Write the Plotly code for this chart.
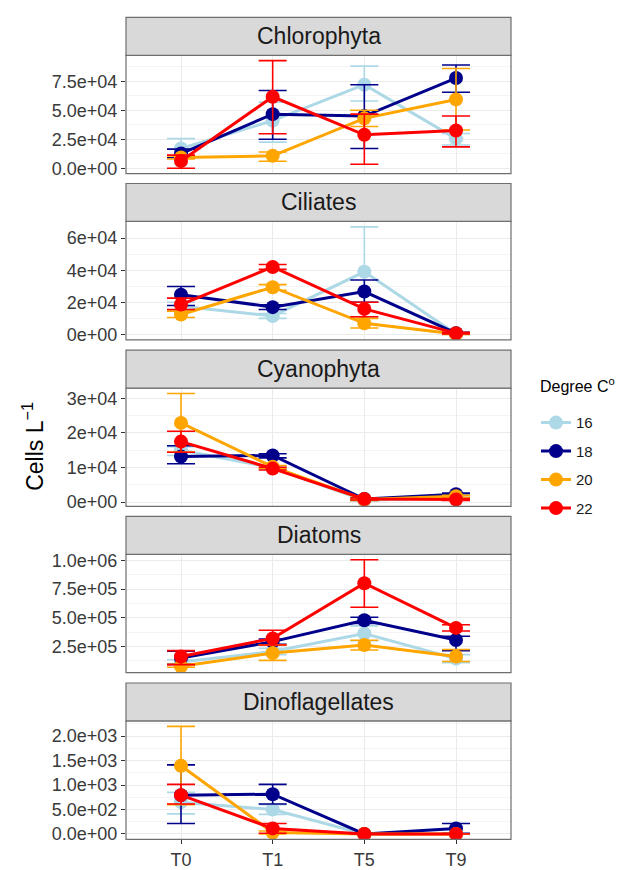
import plotly.graph_objects as go

W, H = 625, 870

times = ["T0", "T1", "T5", "T9"]
temps = ["16", "18", "20", "22"]
colors = {"16": "#ADD8E6", "18": "#00008B", "20": "#FFA500", "22": "#FF0000"}
groups = ["Chlorophyta", "Ciliates", "Cyanophyta", "Diatoms", "Dinoflagellates"]

# ---- data: mean, lower, upper for each group / temperature ----
chl_mean = {"16": [17000, 41000, 72000, 25500], "18": [12700, 46600, 45000, 77700],
            "20": [9300, 10700, 43000, 59300], "22": [6200, 61600, 28800, 32500]}
chl_lo = {"16": [9000, 22500, 58000, 20000], "18": [9000, 25000, 17000, 65500],
          "20": [8000, 6000, 36000, 33000], "22": [0, 29700, 3400, 18400]}
chl_hi = {"16": [25500, 57000, 88000, 30000], "18": [16500, 67000, 72000, 89000],
          "20": [10500, 14000, 50000, 86000], "22": [11300, 92700, 46600, 45000]}

cil_mean = {"16": [17500, 11500, 39000, 300], "18": [24700, 17000, 26700, 800],
            "20": [12400, 29400, 6900, 200], "22": [18600, 42000, 15900, 800]}
cil_lo = {"16": [15000, 10000, 11000, 0], "18": [18000, 15500, 20000, 300],
          "20": [10500, 27500, 4000, 0], "22": [15500, 40500, 11000, 300]}
cil_hi = {"16": [20000, 13000, 67000, 600], "18": [29800, 18500, 33900, 1300],
          "20": [14500, 31000, 10000, 400], "22": [22600, 43500, 20000, 1300]}

cya_mean = {"16": [15000, 10000, 500, 1500], "18": [13200, 13500, 900, 2300],
            "20": [22900, 10200, 750, 1700], "22": [17500, 9700, 900, 750]}
cya_lo = {"16": [13500, 9500, 300, 1200], "18": [11100, 12800, 600, 2000],
          "20": [14500, 9800, 500, 1400], "22": [14400, 9300, 600, 500]}
cya_hi = {"16": [16000, 10500, 700, 1800], "18": [16300, 14000, 1200, 2600],
          "20": [31400, 10600, 1000, 2000], "22": [20500, 10100, 1200, 1000]}

dia_mean = {"16": [115000, 207000, 364000, 145000], "18": [150000, 293000, 478000, 307000],
            "20": [79000, 193000, 264000, 164000], "22": [164000, 321000, 800000, 412000]}
dia_lo = {"16": [95000, 180000, 300000, 110000], "18": [95000, 270000, 450000, 215000],
          "20": [70000, 130000, 220000, 120000], "22": [93000, 264000, 592000, 385000]}
dia_hi = {"16": [135000, 235000, 430000, 180000], "18": [210000, 315000, 505000, 340000],
          "20": [95000, 265000, 305000, 225000], "22": [215000, 392000, 1005000, 440000]}

din_mean = {"16": [650, 500, 0, 0], "18": [793, 813, 0, 113],
            "20": [1393, 30, 0, 0], "22": [793, 113, 0, 0]}
din_lo = {"16": [410, 400, 0, 0], "18": [213, 613, 0, 13],
          "20": [600, 0, 0, 0], "22": [613, 13, 0, 0]}
din_hi = {"16": [850, 600, 0, 0], "18": [1413, 1013, 0, 213],
          "20": [2200, 60, 0, 0], "22": [1013, 213, 0, 0]}

tick_vals = [[0, 25000, 50000, 75000], [0, 20000, 40000, 60000], [0, 10000, 20000, 30000],
             [250000, 500000, 750000, 1000000], [0, 500, 1000, 1500, 2000]]
tick_text = [["0.0e+00", "2.5e+04", "5.0e+04", "7.5e+04"],
             ["0e+00", "2e+04", "4e+04", "6e+04"],
             ["0e+00", "1e+04", "2e+04", "3e+04"],
             ["2.5e+05", "5.0e+05", "7.5e+05", "1.0e+06"],
             ["0.0e+00", "5.0e+02", "1.0e+03", "1.5e+03", "2.0e+03"]]

data = [(chl_mean, chl_lo, chl_hi), (cil_mean, cil_lo, cil_hi), (cya_mean, cya_lo, cya_hi),
        (dia_mean, dia_lo, dia_hi), (din_mean, din_lo, din_hi)]

# ---- layout geometry (pixels in the window) ----
X0, X1 = 126, 511
strip_tops = [13.5, 182, 351, 519.5, 688.5]
STRIP_H = 38.5
PLOT_H = 120


def px(p):
    return p / W


def py(p):
    return 1 - p / H


fig = go.Figure()
shapes = []
annotations = []
font_family = "Liberation Sans, Arial, sans-serif"

for i, (g, (mean, lo, hi)) in enumerate(zip(groups, data)):
    n = i + 1
    xa = "x" if n == 1 else f"x{n}"
    ya = "y" if n == 1 else f"y{n}"
    top = strip_tops[i] + STRIP_H
    bottom = top + PLOT_H
    for t in temps:
        m = mean[t]
        fig.add_trace(go.Scatter(
            x=times, y=m, mode="lines+markers", name=t,
            legendgroup=t, showlegend=(i == 0),
            line=dict(color=colors[t], width=3),
            marker=dict(color=colors[t], size=14),
            error_y=dict(type="data", symmetric=False,
                         array=[h - v for h, v in zip(hi[t], m)],
                         arrayminus=[v - l for v, l in zip(m, lo[t])],
                         color=colors[t], thickness=1.6, width=14),
            xaxis=xa, yaxis=ya))
    allv = [v for t in temps for v in lo[t] + hi[t]]
    mn, mx = min(allv), max(allv)
    span = mx - mn
    rng = [mn - 0.05 * span, mx + 0.05 * span]
    tv = tick_vals[i]
    step = tv[1] - tv[0]
    minor = [v + step / 2 for v in [tv[0] - step] + tv]
    minor = [v for v in minor if rng[0] <= v <= rng[1]]
    fig.update_layout(**{
        ("xaxis" if n == 1 else f"xaxis{n}"): dict(
            domain=[px(X0), px(X1)], anchor=ya, type="category",
            categoryorder="array", categoryarray=times,
            range=[-0.6, 3.6], showgrid=True, gridcolor="#EBEBEB", gridwidth=1.1,
            showticklabels=(n == 5), ticks="outside" if n == 5 else "",
            ticklen=4, tickcolor="#333333", tickwidth=1,
            tickfont=dict(size=18, color="#3A3A3A", family=font_family),
            showline=False, zeroline=False, fixedrange=True),
        ("yaxis" if n == 1 else f"yaxis{n}"): dict(
            domain=[py(bottom), py(top)], anchor=xa, range=rng,
            tickmode="array", tickvals=tv, ticktext=tick_text[i],
            ticks="outside", ticklen=4, tickcolor="#333333", tickwidth=1,
            tickfont=dict(size=18, color="#3A3A3A", family=font_family),
            showgrid=True, gridcolor="#EBEBEB", gridwidth=1.1, zeroline=False,
            minor=dict(tickmode="array", tickvals=minor, showgrid=True,
                       gridcolor="#F4F4F4", gridwidth=0.6),
            showline=False, fixedrange=True),
    })
    # panel border
    shapes.append(dict(type="rect", xref="paper", yref="paper",
                       x0=px(X0), x1=px(X1), y0=py(bottom), y1=py(top),
                       line=dict(color="#6E6E6E", width=1.2), fillcolor="rgba(0,0,0,0)",
                       layer="above"))
    # strip
    shapes.append(dict(type="rect", xref="paper", yref="paper",
                       x0=px(X0), x1=px(X1), y0=py(top), y1=py(strip_tops[i]),
                       line=dict(color="#6E6E6E", width=1.2), fillcolor="#D9D9D9"))
    annotations.append(dict(text=g, xref="paper", yref="paper",
                            x=px((X0 + X1) / 2), y=py(strip_tops[i] + STRIP_H / 2),
                            xanchor="center", yanchor="middle", showarrow=False,
                            font=dict(size=23, color="#1A1A1A", family=font_family)))

annotations.append(dict(text="Cells L<sup>−1</sup>", xref="paper", yref="paper",
                        x=px(33), y=py(449), textangle=-90, showarrow=False,
                        xanchor="center", yanchor="middle",
                        font=dict(size=23, color="#000000", family=font_family)))

# legend title as its own text so the gap below it can match
annotations.append(dict(text="Degree C<sup>o</sup>", xref="paper", yref="paper",
                        x=px(538), y=py(386), xanchor="left", yanchor="middle",
                        showarrow=False,
                        font=dict(size=16, color="#000000", family=font_family)))

fig.update_layout(
    width=W, height=H, margin=dict(l=0, r=0, t=0, b=0),
    paper_bgcolor="white", plot_bgcolor="white",
    shapes=shapes, annotations=annotations,
    legend=dict(x=px(536), y=py(408), xanchor="left", yanchor="top",
                font=dict(size=15, color="#1A1A1A", family=font_family),
                tracegroupgap=6, itemwidth=30, bgcolor="rgba(0,0,0,0)"),
)

fig.write_html(
    "out.html",
    config={"displayModeBar": False},
    post_script="document.body.style.margin='0';document.body.style.overflow='hidden';",
)
